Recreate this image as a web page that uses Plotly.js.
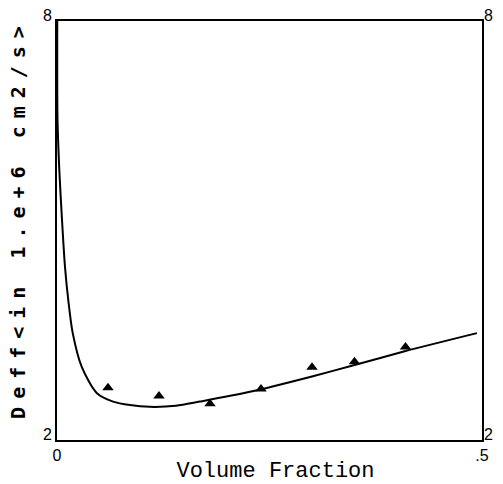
<!DOCTYPE html>
<html>
<head>
<meta charset="utf-8">
<script src="https://cdn.plot.ly/plotly-3.0.1.min.js"></script>
<style>
  html, body { margin: 0; padding: 0; background: #fff; }
  #chart { width: 503px; height: 484px; }
  .ytitle { letter-spacing: 8px; translate: 0px -12px; }
  .xtitle { translate: 6px 0px; }
</style>
</head>
<body>
<div id="chart"></div>
<script>
// Fitted model curve (Volume fraction vs Deff)
const curveX = [0.0003, 0.0006, 0.0027, 0.0059, 0.0094, 0.0133, 0.0185, 0.029, 0.047, 0.066, 0.086, 0.109, 0.14, 0.168, 0.227, 0.30, 0.349, 0.409, 0.494];
const curveY = [8.0, 6.6, 5.87, 5.15, 4.48, 4.0, 3.53, 3.05, 2.67, 2.55, 2.50, 2.475, 2.49, 2.55, 2.69, 2.91, 3.07, 3.27, 3.53];

// Measured points (triangles)
const pointX = [0.06, 0.12, 0.18, 0.24, 0.30, 0.35, 0.41];
const pointY = [2.75, 2.63, 2.52, 2.73, 3.04, 3.12, 3.33];

// Axis ticks
const xTickVals = [0, 0.5];
const xTickText = ['0', '.5'];
const yTickVals = [2, 8];
const yTickText = ['2', '8'];

const tickFont = {family: 'Liberation Sans, Arial, sans-serif', size: 16, color: '#000'};

const data = [
  {x: curveX, y: curveY, mode: 'lines', type: 'scatter',
   line: {color: '#000', width: 2, shape: 'spline', smoothing: 0.8}, hoverinfo: 'skip', showlegend: false},
  {x: pointX, y: pointY, mode: 'markers', type: 'scatter', yaxis: 'y2',
   marker: {symbol: 'triangle-up', size: 10, color: '#000'}, showlegend: false}
];

const layout = {
  width: 503, height: 484,
  margin: {l: 57, r: 21, t: 21, b: 44},
  paper_bgcolor: '#fff', plot_bgcolor: '#fff',
  showlegend: false,
  xaxis: {
    range: [0, 0.5], tickvals: xTickVals, ticktext: xTickText,
    showgrid: false, zeroline: false, showline: true, mirror: true,
    linecolor: '#000', linewidth: 2, ticks: '', tickfont: tickFont,
    title: {text: 'Volume Fraction', standoff: 6,
            font: {family: 'Liberation Mono, Courier New, monospace', size: 22, color: '#000'}}
  },
  yaxis: {
    range: [2, 8], tickvals: yTickVals, ticktext: yTickText,
    showgrid: false, zeroline: false, showline: true, mirror: true,
    linecolor: '#000', linewidth: 2, ticks: '', tickfont: tickFont,
    ticklabelshift: -6, ticklabelstandoff: 0,
    title: {text: 'Deff&lt;in 1.e+6 cm2/s&gt;', standoff: 12,
            font: {family: 'DejaVu Sans Mono, monospace', size: 20, color: '#000', weight: 'bold'}}
  },
  yaxis2: {
    range: [2, 8], tickvals: yTickVals, ticktext: yTickText,
    overlaying: 'y', side: 'right',
    showgrid: false, zeroline: false, showline: false,
    ticks: '', tickfont: tickFont, ticklabelshift: -6, ticklabelstandoff: 1
  }
};

Plotly.newPlot('chart', data, layout, {displayModeBar: false, staticPlot: true});
</script>
</body>
</html>
